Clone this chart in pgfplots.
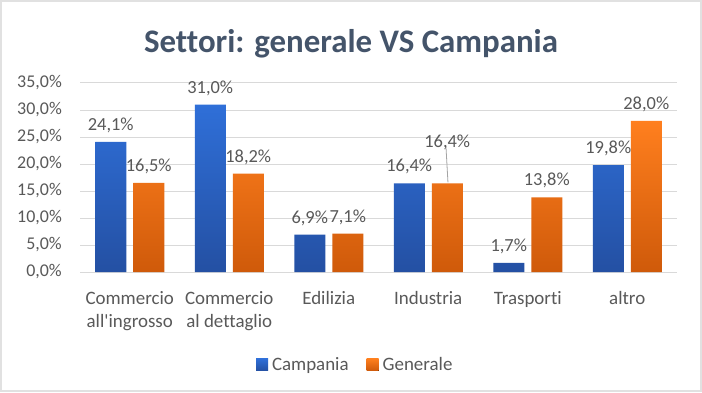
\documentclass[border=0pt]{standalone}
\usepackage{fontspec}
\setmainfont{Carlito}[Ligatures={TeX,NoCommon}]
\usepackage{pgfplots}
\usepackage{pgfplotstable}
\pgfplotsset{compat=1.18}
\definecolor{txt}{HTML}{595959}
\definecolor{ttl}{HTML}{44546A}
\definecolor{grid}{HTML}{D9D9D9}
\definecolor{btop}{HTML}{2F6FD8}
\definecolor{bbot}{HTML}{2450A3}
\definecolor{otop}{HTML}{FF7F1E}
\definecolor{obot}{HTML}{CF5A0A}
\pgfplotstableread{
x y s
0 24.1 0
1 31.0 0
2 6.9 0
3 16.4 0
4 1.7 0
5 19.8 0
}\campania
\pgfplotstableread{
x y s
0 16.5 0
1 18.2 0
2 7.1 0
3 16.4 24
4 13.8 0
5 28.0 0
}\generale
\begin{document}
\begin{tikzpicture}[x=1bp,y=1bp]
\draw[draw=grid!80, line width=2bp, fill=white] (1,1) rectangle (701,391);
\node[anchor=base, font=\fontsize{33}{38}\selectfont\bfseries, text=ttl, inner sep=0pt] at (351,340) {Settori: generale VS Campania};
\begin{axis}[
  at={(80bp,120bp)}, anchor=south west,
  scale only axis, width=597bp, height=189bp,
  ybar=7bp, bar width=31bp,
  xmin=-0.5, xmax=5.5, ymin=0, ymax=35,
  ytick={0,5,...,35},
  xtick={0,1,2,3,4,5},
  xticklabels={{Commercio\\all\textquotesingle ingrosso},{Commercio\\al dettaglio},{Edilizia},{Industria},{Trasporti},{altro}},
  axis line style={draw=none},
  axis x line*=bottom,
  x axis line style={draw=grid, line width=1bp},
  major tick length=0pt,
  ymajorgrids, grid style={draw=grid, line width=1bp},
  /pgf/number format/assume math mode=true,
  yticklabel={\pgfmathprintnumber[fixed,fixed zerofill,precision=1,use comma]{\tick}\%},
  yticklabel style={font=\fontsize{18}{22}\selectfont, text=txt, anchor=east, inner sep=0pt, xshift=-18bp},
  xticklabel style={font=\fontsize{19}{23}\selectfont, text=txt, anchor=north, align=center, inner sep=0pt, yshift=-19bp},
  nodes near coords={\pgfmathprintnumber[fixed,fixed zerofill,precision=1,use comma,assume math mode=true]{\pgfplotspointmeta}\%},
  visualization depends on={\thisrow{s} \as \myshift},
  nodes near coords style={font=\fontsize{18.5}{22}\selectfont, text=txt, anchor=south, inner sep=0pt, yshift=9bp+\myshift bp},
  legend style={at={(axis description cs:0.461,-0.49)}, anchor=center, draw=none, fill=none,
    font=\fontsize{19}{23}\selectfont, text=txt, legend columns=2,
    /tikz/every even column/.append style={column sep=16bp}},
  legend image code/.code={\fill[#1] (0bp,-6bp) rectangle (12bp,6bp); \path (0bp,0bp) -- (14bp,0bp);},
  clip=false,
]
\addplot[draw=none, top color=btop, bottom color=bbot] table[x=x,y=y] {\campania};
\addplot[draw=none, top color=otop, bottom color=obot] table[x=x,y=y] {\generale};
\draw[txt!55, line width=0.8bp] (axis cs:3.198,16.6) -- (axis cs:3.178,23.2);
\legend{Campania,Generale}
\end{axis}
\end{tikzpicture}
\end{document}
